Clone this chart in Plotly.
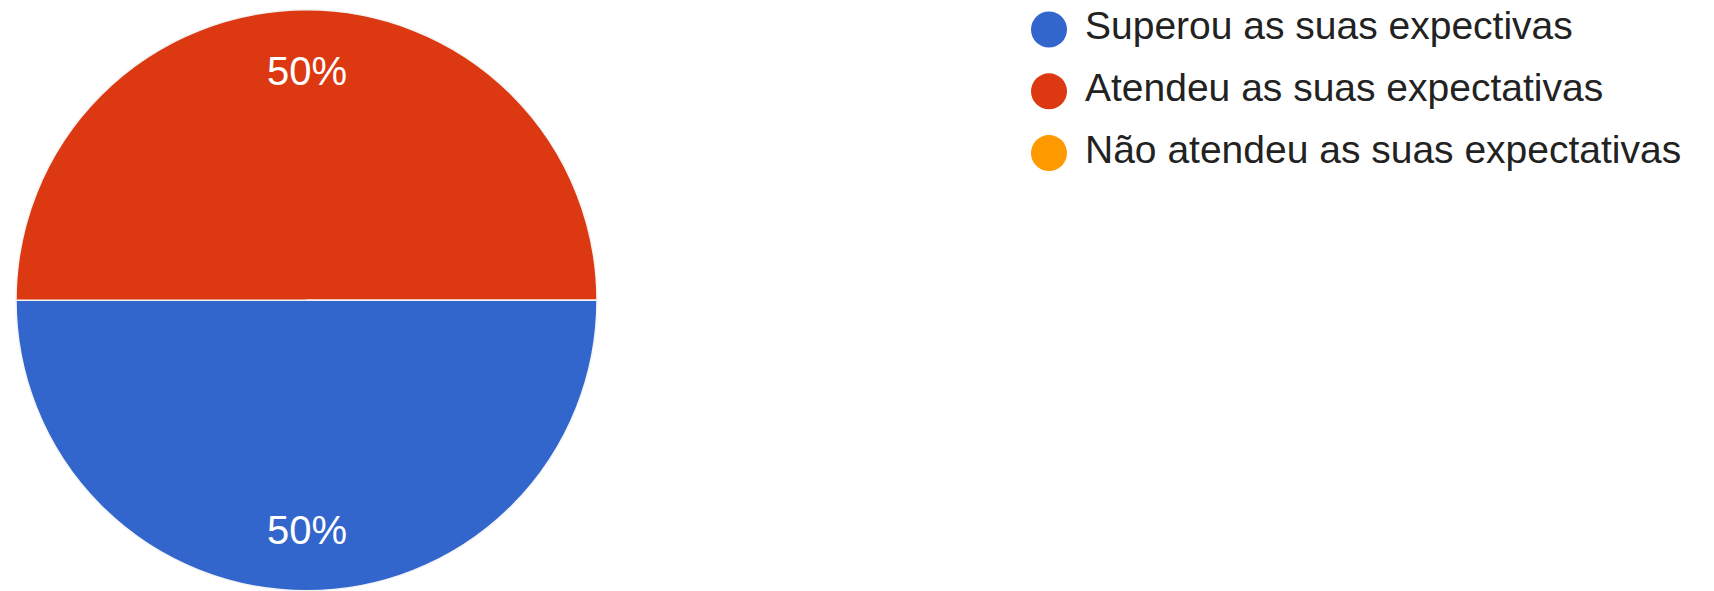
import math
import plotly.graph_objects as go

categories = ["Superou as suas expectivas", "Atendeu as suas expectativas", "Não atendeu as suas expectativas"]
values = [50, 50, 0]
colors = ["#3366CC", "#DC3912", "#FF9900"]

W, H = 1714, 591
ROTATION = 90  # first slice starts at 3 o'clock, clockwise

# pie geometry (figure pixels)
cx, cy, rad = 306.5, 300.3, 290.5
pie_dom_x = [(cx - rad) / W, (cx + rad) / W]
pie_dom_y = [max(0.0, (H - (cy + rad)) / H), min(1.0, (H - (cy - rad)) / H)]

fig = go.Figure()

fig.add_trace(go.Pie(
    labels=categories,
    values=values,
    sort=False,
    direction="clockwise",
    rotation=ROTATION,
    marker=dict(colors=colors, line=dict(color="#F4F4F4", width=1.5)),
    textinfo="none",
    showlegend=False,
    hoverinfo="label+percent",
    domain=dict(x=pie_dom_x, y=pie_dom_y),
))

# percentage labels placed on a hidden axis overlaying the pie ([-1,1] = pie radius)
total = sum(values)
start = ROTATION
for v in values:
    if v <= 0:
        continue
    mid = math.radians(start + v / total * 180)
    start += v / total * 360
    fig.add_annotation(
        x=0.79 * math.sin(mid), y=0.79 * math.cos(mid), xref="x3", yref="y3",
        text=f"{round(v / total * 100)}%", showarrow=False,
        font=dict(family="Liberation Sans, Arial", size=40, color="white"),
    )

# legend: circles + labels on their own hidden axes
fig.add_trace(go.Scatter(
    x=[0] * len(categories), y=categories, mode="markers",
    marker=dict(size=36, color=colors),
    cliponaxis=False, showlegend=False, hoverinfo="skip",
    xaxis="x2", yaxis="y2",
))
fig.add_trace(go.Scatter(
    x=[0] * len(categories), y=categories, mode="markers+text",
    marker=dict(size=56, color="rgba(0,0,0,0)"),
    text=categories, textposition="middle right",
    textfont=dict(family="Liberation Sans, Arial", size=39, color="#222222"),
    cliponaxis=False, showlegend=False, hoverinfo="skip",
    xaxis="x2", yaxis="y2",
))

row0, row_step, leg_bottom = 29.5, 61.8, 220
fig.update_layout(
    width=W, height=H,
    margin=dict(l=0, r=0, t=0, b=0),
    paper_bgcolor="white", plot_bgcolor="rgba(0,0,0,0)",
    xaxis2=dict(domain=[1049 / W, 1.0], range=[0, 1], visible=False, fixedrange=True, anchor="y2"),
    yaxis2=dict(domain=[(H - leg_bottom) / H, 1.0], type="category",
                range=[(leg_bottom - row0) / row_step, -row0 / row_step],
                visible=False, fixedrange=True, anchor="x2"),
    xaxis3=dict(domain=pie_dom_x, range=[-1, 1], visible=False, fixedrange=True, anchor="y3"),
    yaxis3=dict(domain=pie_dom_y, range=[-1, 1], visible=False, fixedrange=True, anchor="x3"),
)
# keep the hidden overlay axes alive
fig.add_trace(go.Scatter(x=[], y=[], xaxis="x3", yaxis="y3", showlegend=False, hoverinfo="skip"))

fig.write_html("out.html", config={"displayModeBar": False},
               post_script="document.body.style.margin='0';")
